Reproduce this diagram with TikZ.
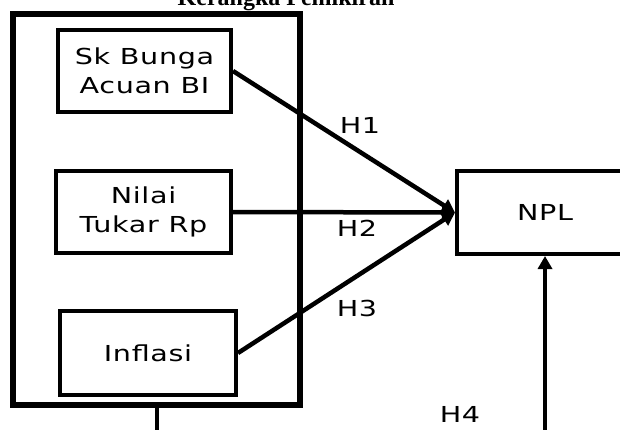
\documentclass[tikz,border=0pt]{standalone}
\usepackage{fontspec}
\newfontfamily\diagfont[FakeStretch=1.3,LetterSpace=3]{DejaVu Sans}
\newfontfamily\titlefont{Liberation Serif}
\usetikzlibrary{positioning,arrows.meta}
\begin{document}
\begin{tikzpicture}[x=1pt, y=1pt,
  font=\diagfont\fontsize{22}{29}\selectfont, >={Triangle[length=13pt,width=14pt]},
  var/.style={draw, line width=4pt, align=center, minimum width=173pt, minimum height=82pt, inner sep=0pt},
  grpframe/.style={draw, line width=5.5pt, minimum width=287pt, minimum height=391pt, inner sep=0pt},
  link/.style={->, line width=4.5pt},
  hyp/.style={inner sep=0pt}]
  \useasboundingbox (0,0) rectangle (620,429);
  \clip (0,0) rectangle (620,429);
  % title
  \node[font=\titlefont\bfseries\fontsize{24}{28}\selectfont, anchor=base] (title) at (286,423) {Kerangka Pemikiran};
  % frame round the independent variables
  \node[grpframe] (grp) at (156.5,219.5) {};
  % independent variables
  \node[var] (sk) at (144.5,358) {Sk Bunga\\Acuan BI};
  \node[var, minimum width=175pt, below=55pt of sk, xshift=-1pt] (nilai) {Nilai\\Tukar Rp};
  \node[var, minimum width=176pt, minimum height=84pt, below=54pt of nilai, xshift=4.5pt] (infl) {Inflasi};
  % dependent variable
  \node[var, minimum width=176pt, minimum height=83pt] (npl) at (545,216.5) {NPL};
  % hypotheses
  \draw[link] (sk.east) -- (npl.west);
  \draw[link] (nilai.east) -- (npl.west);
  \draw[link] (infl.east) -- (npl.west);
  \coordinate (h4) at (157,-3);
  \draw[link] (grp.south -| h4) -- (h4) -- (npl.south |- h4) -- (npl.south);
  \node[hyp] (h1) at (360,304) {H1};
  \node[hyp] (h2) at (357,201) {H2};
  \node[hyp] (h3) at (357,121) {H3};
  \node[hyp] (h4lbl) at (460,15) {H4};
\end{tikzpicture}
\end{document}
